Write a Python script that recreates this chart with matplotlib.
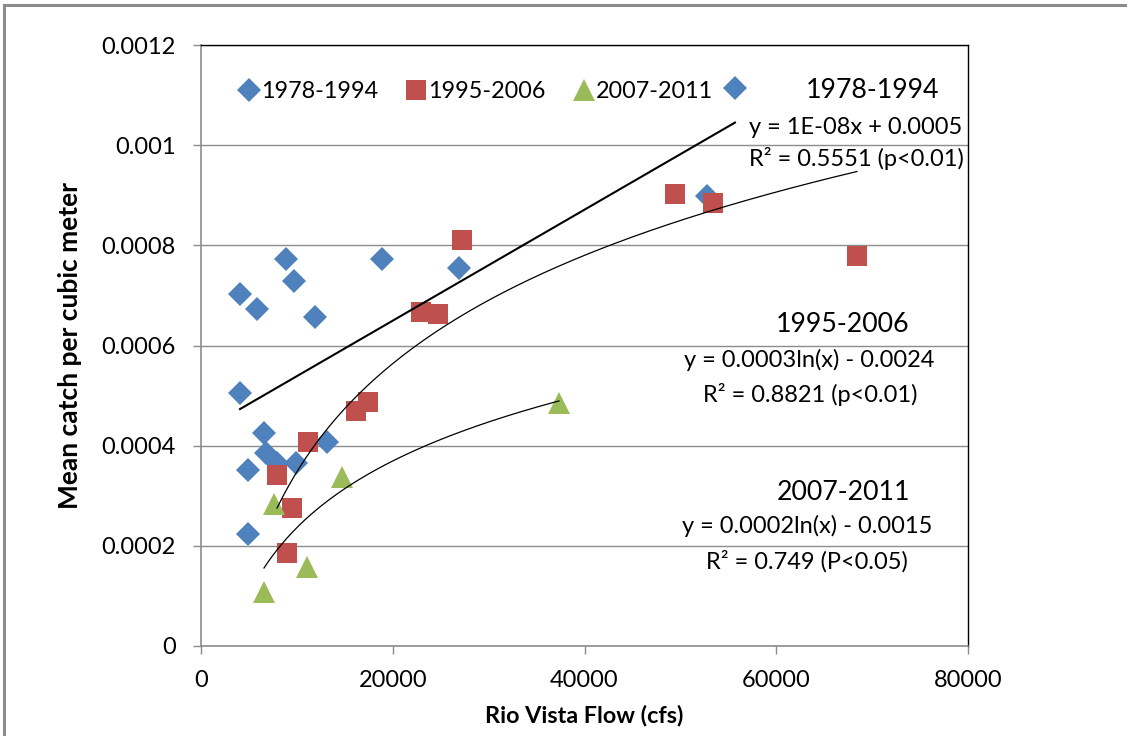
import numpy as np
import matplotlib
matplotlib.use("Agg")
import matplotlib.pyplot as plt
from matplotlib.lines import Line2D

plt.rcParams['font.family'] = ['Lato', 'DejaVu Sans']

# ---- data ----
flow_7894 = [8865, 18878, 9700, 4068, 5841, 11890, 4068, 6571, 6779, 13142,
             7927, 9908, 4902, 4902, 26909, 52775, 55694]
catch_7894 = [0.000772, 0.000772, 0.000728, 0.000702, 0.000672, 0.000656, 0.000506,
              0.000425, 0.000385, 0.000407, 0.000365, 0.000365, 0.000351, 0.000223,
              0.000754, 0.000899, 0.001115]

flow_9506 = [7927, 9491, 8970, 11160, 16166, 17418, 22945, 24718, 27222,
             49437, 53400, 68419]
catch_9506 = [0.000341, 0.000275, 0.000185, 0.000407, 0.000469, 0.000487,
              0.000666, 0.000662, 0.000810, 0.000903, 0.000885, 0.000778]

flow_0711 = [7614, 14706, 11056, 6571, 37338]
catch_0711 = [0.000283, 0.000337, 0.000158, 0.000108, 0.000485]

# trendline coefficients (as drawn)
lin_7894 = [1.108e-8, 0.000428]       # slope, intercept
log_9506 = [0.0003118, -0.002524]     # a*ln(x)+b
log_0711 = [0.000192, -0.001532]

labels = ['1978-1994', '1995-2006', '2007-2011']
eq_texts = [['y = 1E-08x + 0.0005', 'R\u00b2 = 0.5551 (p<0.01)'],
            ['y = 0.0003ln(x) - 0.0024', 'R\u00b2 = 0.8821 (p<0.01)'],
            ['y = 0.0002ln(x) - 0.0015', 'R\u00b2 = 0.749 (P<0.05)']]

x_ticks = [0, 20000, 40000, 60000, 80000]
y_ticks = [0, 0.0002, 0.0004, 0.0006, 0.0008, 0.001, 0.0012]
y_ticklabels = ['0', '0.0002', '0.0004', '0.0006', '0.0008', '0.001', '0.0012']

blue, red, green = '#4F81BD', '#C0504D', '#9BBB59'

fig = plt.figure(figsize=(11.27, 7.36), dpi=100)
ax = fig.add_axes([201/1127, 90/736, 767/1127, 601/736])

# grid
ax.set_axisbelow(True)
ax.yaxis.grid(True, color='#8C8C8C', linewidth=1.0)

ax.plot(flow_7894, catch_7894, linestyle='none', marker='D', markersize=12,
        color=blue, markeredgewidth=0, label=labels[0], zorder=3)
ax.plot(flow_9506, catch_9506, linestyle='none', marker='s', markersize=15,
        color=red, markeredgewidth=0, label=labels[1], zorder=3)
ax.plot(flow_0711, catch_0711, linestyle='none', marker='^', markersize=15.5,
        color=green, markeredgewidth=0, label=labels[2], zorder=3)

# trendlines over data ranges
xl = np.linspace(min(flow_7894), max(flow_7894), 50)
ax.plot(xl, lin_7894[0]*xl + lin_7894[1], color='black', linewidth=1.5, zorder=4)
xr = np.linspace(min(flow_9506), max(flow_9506), 200)
ax.plot(xr, log_9506[0]*np.log(xr) + log_9506[1], color='black', linewidth=0.9, zorder=4)
xg = np.linspace(min(flow_0711), max(flow_0711), 200)
ax.plot(xg, log_0711[0]*np.log(xg) + log_0711[1], color='black', linewidth=0.9, zorder=4)

ax.set_xlim(0, 80000)
ax.set_ylim(0, 0.0012)
ax.set_xticks(x_ticks)
ax.set_xticklabels([str(t) for t in x_ticks])
ax.set_yticks(y_ticks)
ax.set_yticklabels(y_ticklabels)
ax.tick_params(axis='both', labelsize=17, colors='#8C8C8C', labelcolor='black',
               direction='out', length=6, width=1)
ax.tick_params(axis='x', pad=11)
ax.tick_params(axis='y', pad=12)

for s in ['left', 'bottom']:
    ax.spines[s].set_color('#8C8C8C')
    ax.spines[s].set_linewidth(1.2)
for s in ['top', 'right']:
    ax.spines[s].set_color('black')
    ax.spines[s].set_linewidth(1.0)

ax.set_xlabel('Rio Vista Flow (cfs)', fontsize=16.8, fontweight='bold', labelpad=10)
ax.set_ylabel('Mean catch per cubic meter', fontsize=19, fontweight='bold', labelpad=14)

leg = ax.legend(loc='upper left', bbox_to_anchor=(0.040, 0.955), ncol=3, frameon=False,
                fontsize=16.8, handletextpad=0.15, columnspacing=1.3, handlelength=0.7,
                borderaxespad=0)

# annotations (pixel positions converted to figure fraction)
def fx(px):
    return px / 1127
def fy(py):
    return 1 - py / 736

groups = [((873, 91), (856, 127), (856, 158)),
          ((843, 324), (809, 360), (810, 394)),
          ((843, 492), (807, 526), (807, 561))]
for (title_xy, eq_xy, r_xy), lab, (eq, r2) in zip(groups, labels, eq_texts):
    fig.text(fx(title_xy[0]), fy(title_xy[1]), lab, fontsize=19.3, ha='center', va='center')
    fig.text(fx(eq_xy[0]), fy(eq_xy[1]), eq, fontsize=17, ha='center', va='center')
    fig.text(fx(r_xy[0]), fy(r_xy[1]), r2, fontsize=17, ha='center', va='center')

# outer frame
fig.add_artist(Line2D([fx(4), fx(4)], [0, fy(5)], color='#8C8C8C', linewidth=2.2))
fig.add_artist(Line2D([fx(4), 1], [fy(5), fy(5)], color='#8C8C8C', linewidth=2.2))

fig.savefig('out.png', dpi=100)
